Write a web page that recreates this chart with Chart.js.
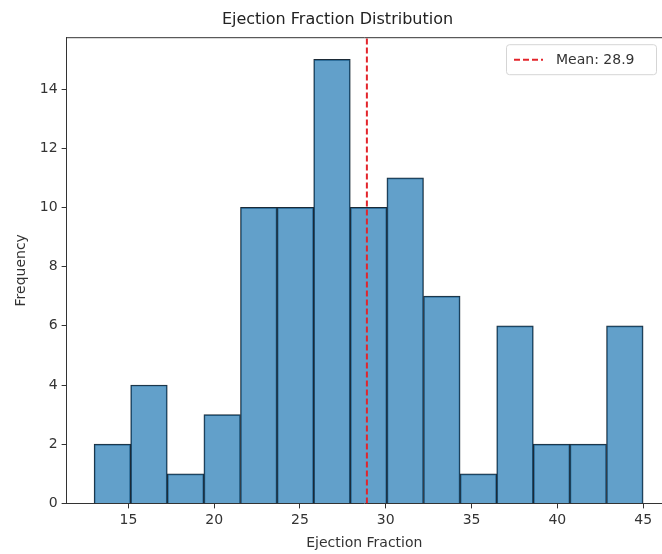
<!DOCTYPE html>
<html>
<head>
<meta charset="utf-8">
<script src="https://cdn.jsdelivr.net/npm/chart.js@4.4.1/dist/chart.umd.min.js"></script>
<style>
  html, body { margin: 0; padding: 0; background: #fff; }
  #wrap { width: 662px; height: 554px; }
</style>
</head>
<body>
<div id="wrap"><canvas id="histCanvas" width="662" height="554"></canvas></div>
<script>
// histogram bins (15 bins between 13 and 45)
var binStart = 13;
var binEnd = 45;
var counts = [2, 4, 1, 3, 10, 10, 15, 10, 11, 7, 1, 6, 2, 2, 6];
var meanValue = 28.9;
var xTicks = [15, 20, 25, 30, 35, 40, 45];

var binWidth = (binEnd - binStart) / counts.length;
var barPoints = [];
for (var i = 0; i < counts.length; i++) {
	barPoints.push({ x: binStart + binWidth * (i + 0.5), y: counts[i] });
}

// draws the frame on top and the boxed legend inside the plot
var framePlugin = {
	id: "framePlugin",
	afterDraw: function(chart) {
		var ctx = chart.ctx;
		var a = chart.chartArea;
		ctx.save();
		ctx.strokeStyle = "#333";
		ctx.lineWidth = 1;
		ctx.beginPath();
		ctx.moveTo(a.left, a.top + 0.5);
		ctx.lineTo(a.right, a.top + 0.5);
		ctx.stroke();

		// legend
		var w = 150, h = 30;
		var x = a.right - w - 6, y = a.top + 7;
		ctx.fillStyle = "rgba(255,255,255,0.85)";
		ctx.strokeStyle = "#d5d5d5";
		ctx.beginPath();
		ctx.roundRect(x + 0.5, y + 0.5, w, h, 3);
		ctx.fill();
		ctx.stroke();
		ctx.strokeStyle = "#e3242b";
		ctx.lineWidth = 2;
		ctx.setLineDash([6, 3]);
		ctx.beginPath();
		ctx.moveTo(x + 8, y + h / 2 + 0.5);
		ctx.lineTo(x + 37, y + h / 2 + 0.5);
		ctx.stroke();
		ctx.setLineDash([]);
		ctx.fillStyle = "#333";
		ctx.font = "14px 'DejaVu Sans'";
		ctx.textBaseline = "middle";
		ctx.fillText("Mean: " + meanValue, x + 50, y + h / 2 + 1);
		ctx.restore();
	}
};

var ctx = document.getElementById("histCanvas");
var chart = new Chart(ctx, {
	type: "bar",
	data: {
		datasets: [
			{
				label: "Ejection Fraction",
				data: barPoints,
				backgroundColor: "rgba(31,119,180,0.7)",
				borderColor: "#1c2a36",
				borderWidth: 1,
				barPercentage: 1,
				categoryPercentage: 1,
				order: 2
			},
			{
				type: "line",
				label: "Mean: " + meanValue,
				data: [{ x: meanValue, y: 0 }, { x: meanValue, y: 15.75 }],
				borderColor: "#e3242b",
				borderWidth: 2,
				borderDash: [6, 3],
				pointRadius: 0,
				fill: false,
				order: 1
			}
		]
	},
	options: {
		responsive: false,
		animation: false,
		layout: { padding: { left: 13, right: 0, top: 4, bottom: 2 } },
		plugins: {
			legend: { display: false },
			tooltip: { enabled: false },
			title: {
				display: true,
				text: "Ejection Fraction Distribution",
				color: "#222",
				font: { family: "DejaVu Sans", size: 16, weight: "normal" },
				padding: { top: 6, bottom: 8 }
			}
		},
		scales: {
			x: {
				type: "linear",
				offset: false,
				min: 11.4,
				max: 46.1,
				afterBuildTicks: function(scale) {
					scale.ticks = xTicks.map(function(v) { return { value: v }; });
				},
				ticks: {
					color: "#333",
					font: { family: "DejaVu Sans", size: 14 },
					padding: 4,
					maxRotation: 0,
					autoSkip: false
				},
				grid: { offset: false, drawOnChartArea: false, drawTicks: true, tickLength: 5, color: "#333" },
				border: { color: "#333", width: 1 },
				title: {
					display: true,
					text: "Ejection Fraction",
					color: "#333",
					font: { family: "DejaVu Sans", size: 14 },
					padding: { top: 2, bottom: 0 }
				}
			},
			y: {
				min: 0,
				max: 15.75,
				afterBuildTicks: function(scale) {
					var t = [];
					for (var v = 0; v <= 14; v += 2) t.push({ value: v });
					scale.ticks = t;
				},
				ticks: {
					color: "#333",
					font: { family: "DejaVu Sans", size: 14 },
					padding: 4
				},
				grid: { drawOnChartArea: false, drawTicks: true, tickLength: 5, color: "#333" },
				border: { color: "#333", width: 1 },
				title: {
					display: true,
					text: "Frequency",
					color: "#333",
					font: { family: "DejaVu Sans", size: 14 },
					padding: { top: 0, bottom: 6 }
				}
			}
		}
	},
	plugins: [framePlugin]
});
</script>
</body>
</html>
